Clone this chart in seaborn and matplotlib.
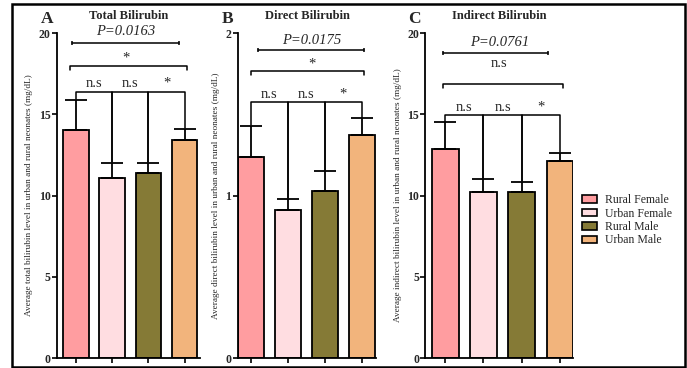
import matplotlib
matplotlib.use("Agg")
import matplotlib.pyplot as plt
from matplotlib.patches import Patch, Rectangle
import seaborn as sns
import pandas as pd

# groups and colours
groups = ["Rural Female", "Urban Female", "Rural Male", "Urban Male"]
colors = ["#FF9DA0", "#FFDDE1", "#857A36", "#F2B47C"]

# mean values and upper error
total_mean = [14.05, 11.1, 11.4, 13.45]
total_err = [1.85, 0.9, 0.6, 0.65]
direct_mean = [1.235, 0.91, 1.03, 1.37]
direct_err = [0.195, 0.07, 0.12, 0.105]
indirect_mean = [12.85, 10.2, 10.25, 12.1]
indirect_err = [1.65, 0.85, 0.6, 0.55]

titles = ["Total Bilirubin", "Direct Bilirubin", "Indirect Bilirubin"]
letters = ["A", "B", "C"]
ylabels = [
    "Average total bilirubin level in urban and rural neonates (mg/dL)",
    "Average direct bilirubin level in urban and rural neonates (mg/dL)",
    "Average indirect bilirubin level in urban and rural neonates (mg/dL)",
]
p_texts = ["P=0.0163", "P=0.0175", "P=0.0761"]
overall_sig = ["*", "*", "n.s"]
pair_sig = [["n.s", "n.s", "*"], ["n.s", "n.s", "*"], ["n.s", "n.s", "*"]]

sns.set_style("ticks")
plt.rcParams["font.family"] = "serif"
plt.rcParams["font.serif"] = ["Liberation Serif", "DejaVu Serif"]

fig = plt.figure(figsize=(6.87, 3.68), dpi=100)

# axes positions in figure fraction
boxes = [
    [0.083, 0.027, 0.208, 0.883],
    [0.346, 0.027, 0.202, 0.883],
    [0.619, 0.027, 0.215, 0.883],
]
xlims = [(-0.52, 3.42), (-0.35, 3.4), (-0.52, 3.34)]
ylims = [(0, 20), (0, 2), (0, 20)]
yticks = [[0, 5, 10, 15, 20], [0, 1, 2], [0, 5, 10, 15, 20]]

# annotation layout: (p text x, p text y, p line y, p line x0, x1,
#                     sig text y, sig line y, sig x0, x1, bracket y)
ann = [
    (1.37, 20.1, 19.4, -0.1, 2.85, 18.05, 18.0, -0.17, 3.06, 16.4),
    (1.66, 1.955, 1.895, 0.19, 3.05, 1.77, 1.765, 0.0, 3.05, 1.575),
    (1.42, 19.4, 18.75, -0.05, 2.7, 17.75, 16.85, -0.05, 3.07, 14.95),
]

means = [total_mean, direct_mean, indirect_mean]
errs = [total_err, direct_err, indirect_err]

for k in range(3):
    ax = fig.add_axes(boxes[k])
    df = pd.DataFrame({"group": groups, "value": means[k]})
    sns.barplot(data=df, x="group", y="value", hue="group", palette=colors,
                order=groups, hue_order=groups, edgecolor="black",
                linewidth=1.3, width=0.7, legend=False, ax=ax, saturation=1)
    xs = list(range(len(groups)))
    ax.errorbar(xs, means[k], yerr=[[0] * 4, errs[k]], fmt="none",
                ecolor="black", elinewidth=1.3, capsize=8, capthick=1.3,
                zorder=1)
    ax.set_xlim(*xlims[k])
    ax.set_ylim(*ylims[k])
    ax.set_yticks(yticks[k])
    ax.set_yticklabels([str(t) for t in yticks[k]], fontsize=8.5,
                       fontweight="bold")
    ax.set_xticks(xs)
    ax.set_xticklabels([])
    ax.set_xlabel("")
    ax.set_ylabel(ylabels[k], fontsize=6.7, labelpad=4)
    ax.tick_params(axis="both", length=3.5, width=1.2, pad=1, color="black")
    sns.despine(ax=ax)
    for s in ["left", "bottom"]:
        ax.spines[s].set_linewidth(1.3)
        ax.spines[s].set_color("black")
    ax.set_title(titles[k], fontsize=9, fontweight="bold", pad=10)
    ax.text(-0.07, 1.032, letters[k], transform=ax.transAxes, fontsize=12.5,
            fontweight="bold", ha="center", va="baseline")

    px, py, pl, p0, p1, sy, sl, s0, s1, by = ann[k]
    scale = ylims[k][1] / 20.0
    lw = 1.1
    # p-value line
    ax.text(px, py, p_texts[k], fontsize=10.5, style="italic", ha="center",
            va="center", clip_on=False)
    ax.plot([p0, p1], [pl, pl], color="black", lw=lw, clip_on=False)
    ax.plot([p0, p1], [pl, pl], ls="none", marker="|", ms=3, mew=lw,
            color="black", clip_on=False)
    # overall significance line
    ax.text(px, sy, overall_sig[k], fontsize=10.5, ha="center", va="bottom",
            clip_on=False)
    ax.plot([s0, s0, s1, s1], [sl - 0.25 * scale, sl, sl, sl - 0.25 * scale],
            color="black", lw=lw, clip_on=False)
    # pairwise brackets
    tops = [m + e for m, e in zip(means[k], errs[k])]
    for i in range(3):
        ax.plot([i, i, i + 1, i + 1],
                [tops[i] + 0.05 * scale, by, by, tops[i + 1] + 0.05 * scale],
                color="black", lw=lw, clip_on=False)
        ax.text(i + 0.5, by + 0.1 * scale, pair_sig[k][i], fontsize=10.5,
                ha="center", va="bottom", clip_on=False)

# legend
handles = [Patch(facecolor=c, edgecolor="black", linewidth=1.2) for c in colors]
fig.legend(handles, groups, loc="upper left", bbox_to_anchor=(0.84, 0.485),
           frameon=False, fontsize=8.5, handlelength=1.3, handleheight=0.6,
           labelspacing=0.12, handletextpad=0.7, borderaxespad=0)

# outer frame
fig.patches.append(Rectangle((12 / 687, 1 - 367 / 368), 673 / 687, 363 / 368,
                             transform=fig.transFigure, fill=False,
                             edgecolor="black", linewidth=1.8))

fig.savefig("out.png", dpi=100)
